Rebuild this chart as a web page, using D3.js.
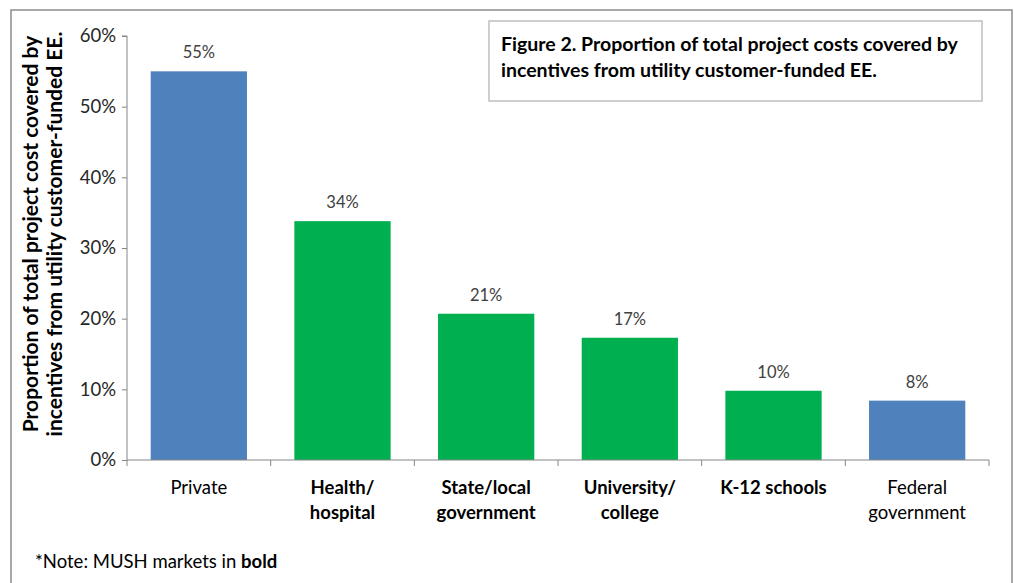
<!DOCTYPE html>
<html>
<head>
<meta charset="utf-8">
<script src="https://cdn.jsdelivr.net/npm/d3@7"></script>
<style>
html,body{margin:0;padding:0;background:#fff;}
svg{display:block;font-family:Lato,"Open Sans",sans-serif;}
</style>
</head>
<body>
<svg id="chart" width="1014" height="583"></svg>
<script>
const categories = ["Private", "Health/\nhospital", "State/local\ngovernment", "University/\ncollege", "K-12 schools", "Federal\ngovernment"];
const values = [0.55, 0.338, 0.207, 0.173, 0.098, 0.084];
const isMush = [false, true, true, true, true, false];
const yTicks = [0, 0.1, 0.2, 0.3, 0.4, 0.5, 0.6];
const titleLines = ["Figure 2. Proportion of total project costs covered by", "incentives from utility customer-funded EE."];
const yTitleLines = ["Proportion of total project cost covered by", "incentives from utility customer-funded EE."];

const svg = d3.select("#chart");
const pLeft = 127, pRight = 989, pTop = 36, pBottom = 460;

// outer border
svg.append("rect").attr("x", 11).attr("y", 10).attr("width", 1001).attr("height", 620)
  .attr("fill", "none").attr("stroke", "#8c8c8c").attr("stroke-width", 1.5);

const x = d3.scaleBand().domain(categories).range([pLeft, pRight]).paddingInner(0.33).paddingOuter(0.165);
const y = d3.scaleLinear().domain([0, 0.6]).range([pBottom, pTop]);

// bars
svg.selectAll("rect.bar").data(values).enter().append("rect")
  .attr("class", "bar")
  .attr("x", (d, i) => x(categories[i]))
  .attr("width", x.bandwidth())
  .attr("y", d => y(d))
  .attr("height", d => y(0) - y(d))
  .attr("fill", (d, i) => isMush[i] ? "#00B050" : "#4F81BD");

// data labels
svg.selectAll("text.lbl").data(values).enter().append("text")
  .attr("class", "lbl")
  .attr("x", (d, i) => x(categories[i]) + x.bandwidth() / 2)
  .attr("y", d => y(d) - 13)
  .attr("text-anchor", "middle")
  .attr("font-size", 16.5)
  .attr("fill", "#404040")
  .text(d => Math.round(d * 100) + "%");

// y axis
const yAxis = d3.axisLeft(y).tickValues(yTicks).tickFormat(d3.format(".0%")).tickSize(5).tickPadding(6);
const gy = svg.append("g").attr("transform", `translate(${pLeft},0)`).call(yAxis);
gy.select(".domain").attr("stroke", "#868686").attr("d", `M-5,${pTop}H0V${pBottom}`);
gy.selectAll(".tick line").attr("stroke", "#868686");
gy.selectAll(".tick text").attr("font-size", 18.5).attr("fill", "#262626").attr("font-family", "Lato, sans-serif");

// x axis line and ticks at category boundaries
const step = x.step();
const bounds = categories.map((c) => x(c) - x.paddingInner() * step / 2);
bounds.push(pRight);
bounds[0] = pLeft;
svg.append("line").attr("x1", pLeft).attr("x2", pRight).attr("y1", pBottom).attr("y2", pBottom)
  .attr("stroke", "#868686").attr("stroke-width", 1);
svg.selectAll("line.xt").data(bounds).enter().append("line")
  .attr("class", "xt")
  .attr("x1", d => d).attr("x2", d => d)
  .attr("y1", pBottom).attr("y2", pBottom + 6)
  .attr("stroke", "#868686");

// category labels
categories.forEach((c, i) => {
  const t = svg.append("text")
    .attr("x", x(c) + x.bandwidth() / 2)
    .attr("y", 494)
    .attr("text-anchor", "middle")
    .attr("font-size", 18.5)
    .attr("font-weight", isMush[i] ? "bold" : "normal")
    .attr("fill", "#000");
  c.split("\n").forEach((line, j) => {
    t.append("tspan").attr("x", x(c) + x.bandwidth() / 2).attr("dy", j === 0 ? 0 : 25).text(line);
  });
});

// y title
const yt = svg.append("text")
  .attr("transform", "translate(38,234) rotate(-90)")
  .attr("text-anchor", "middle")
  .attr("font-size", 21)
  .attr("font-weight", "bold")
  .attr("fill", "#000");
yTitleLines.forEach((l, j) => yt.append("tspan").attr("x", 0).attr("dy", j === 0 ? 0 : 24).text(l));

// title box
svg.append("rect").attr("x", 489).attr("y", 21).attr("width", 493).attr("height", 80)
  .attr("fill", "#fff").attr("stroke", "#bfbfbf").attr("stroke-width", 1.5);
const tt = svg.append("text").attr("x", 501).attr("y", 51)
  .attr("font-size", 19.5).attr("font-weight", "bold").attr("fill", "#000");
titleLines.forEach((l, j) => tt.append("tspan").attr("x", 501).attr("dy", j === 0 ? 0 : 26).text(l));

// note
const note = svg.append("text").attr("x", 35).attr("y", 568).attr("font-size", 18.5).attr("fill", "#000");
note.append("tspan").text("*Note: MUSH markets in ");
note.append("tspan").attr("font-weight", "bold").text("bold");
</script>
</body>
</html>
